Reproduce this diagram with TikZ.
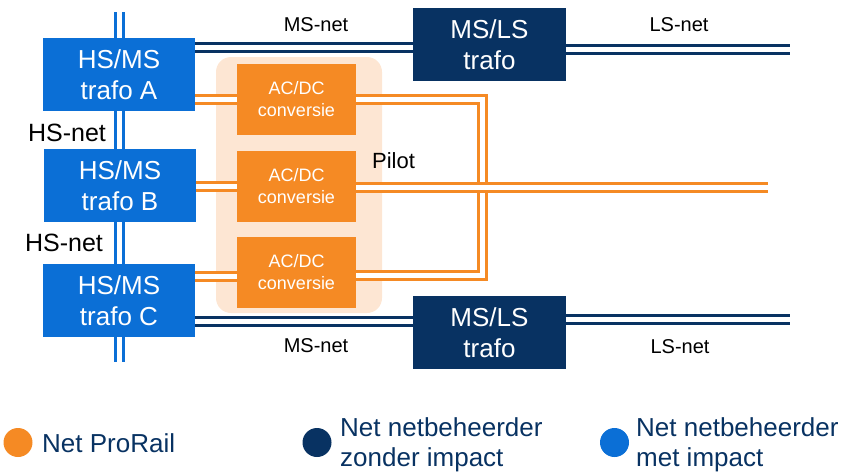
\documentclass[tikz,border=0pt]{standalone}
\usepackage{fontspec}
\setmainfont{Liberation Sans}
\definecolor{hsblue}{HTML}{0B6FD6}
\definecolor{navy}{HTML}{083262}
\definecolor{prorail}{HTML}{F58A24}
\definecolor{pilotbg}{HTML}{FDE6D3}
\pgfdeclarelayer{bg}
\pgfdeclarelayer{lines}
\pgfsetlayers{bg,lines,main}
\tikzset{
  box/.style={inner sep=0pt, align=center, text=white, minimum height=73pt, minimum width=152pt,
    font=\fontsize{26}{31.5}\selectfont},
  hsbox/.style={box, fill=hsblue},
  msbox/.style={box, fill=navy, minimum width=153pt},
  acbox/.style={inner sep=0pt, align=center, text=white, fill=prorail, minimum width=119pt,
    minimum height=71pt, font=\fontsize{18}{22}\selectfont},
  dbl/.style={line width=3pt, double distance=5pt, double=white},
  hsline/.style={dbl, draw=hsblue},
  nvline/.style={dbl, draw=navy},
  orline/.style={dbl, draw=prorail},
  lbl/.style={inner sep=0pt, anchor=base, font=\fontsize{20}{24}\selectfont},
  biglbl/.style={inner sep=0pt, anchor=base, font=\fontsize{25}{30}\selectfont},
  leg/.style={inner sep=0pt, anchor=base west, align=left, text=navy, font=\fontsize{26}{29.5}\selectfont},
  dot/.style={circle, inner sep=0pt, minimum size=29pt}
}
\begin{document}
\begin{tikzpicture}[x=1pt,y=-1pt]
\useasboundingbox (0,0) rectangle (860,472);

% boxes
\node[hsbox] (trA) at (119,74.5) {HS/MS\\trafo A};
\node[hsbox] (trB) at (120,185.5) {HS/MS\\trafo B};
\node[hsbox] (trC) at (119,300.5) {HS/MS\\trafo C};
\node[msbox] (ms1) at (489.5,44.5) {MS/LS\\trafo};
\node[msbox] (ms2) at (489.5,332.5) {MS/LS\\trafo};
\node[acbox] (ac1) at (296.5,99.5) {AC/DC\\conversie};
\node[acbox] (ac2) at (296.5,186.5) {AC/DC\\conversie};
\node[acbox] (ac3) at (296.5,272.5) {AC/DC\\conversie};

% free ends
\coordinate (hstop) at (119,12);
\coordinate (hsbot) at (119,362);
\coordinate (ls1end) at (790,49);
\coordinate (ls2end) at (790,319.5);
\coordinate (pilotend) at (768,187);
\coordinate (loopTR) at (482.5,99);
\coordinate (loopBR) at (482.5,275.5);

\begin{pgfonlayer}{bg}
  \node[fill=pilotbg, rounded corners=15pt, minimum width=166pt, minimum height=256pt, inner sep=0pt]
    (pilotarea) at (299,185) {};
\end{pgfonlayer}

\begin{pgfonlayer}{lines}
  \draw[hsline] (hstop) -- (hsbot);
  \draw[nvline] (trA.east |- 0,47) -- (ms1.west |- 0,47);
  \draw[nvline] (ms1.east |- ls1end) -- (ls1end);
  \draw[nvline] (trC.east |- 0,321) -- (ms2.west |- 0,321);
  \draw[nvline] (ms2.east |- ls2end) -- (ls2end);
  \draw[orline] (trA.east |- ac1.west) -- (ac1.west);
  \draw[orline] (trB.east |- ac2.west) -- (ac2.west);
  \draw[orline] (trC.east |- 0,276) -- (ac3.west |- 0,276);
  \draw[orline] (ac1.east |- loopTR) -- (loopTR) -- (loopBR) -- (ac3.east |- loopBR);
  \draw[orline] (ac2.east |- pilotend) -- (pilotend);
\end{pgfonlayer}

% labels
\node[lbl] (msnet1) at (316,31.7) {MS-net};
\node[lbl] (lsnet1) at (679,31.7) {LS-net};
\node[lbl] (msnet2) at (316,352.7) {MS-net};
\node[lbl] (lsnet2) at (680,353) {LS-net};
\node[biglbl] (hsnet1) at (67,141.7) {HS-net};
\node[biglbl] (hsnet2) at (64,251.7) {HS-net};
\node[lbl, font=\fontsize{22}{26}\selectfont] (pilot) at (393.5,168.3) {Pilot};

% legend
\node[dot, fill=prorail] (d1) at (18,442.5) {};
\node[dot, fill=navy] (d2) at (317,442.5) {};
\node[dot, fill=hsblue] (d3) at (614.5,442.5) {};
\node[leg] (l1) at (42,452.7) {Net ProRail};
\node[leg] (l2) at (340,466.2) {Net netbeheerder\\zonder impact};
\node[leg] (l3) at (636,466.2) {Net netbeheerder\\met impact};
\end{tikzpicture}
\end{document}
